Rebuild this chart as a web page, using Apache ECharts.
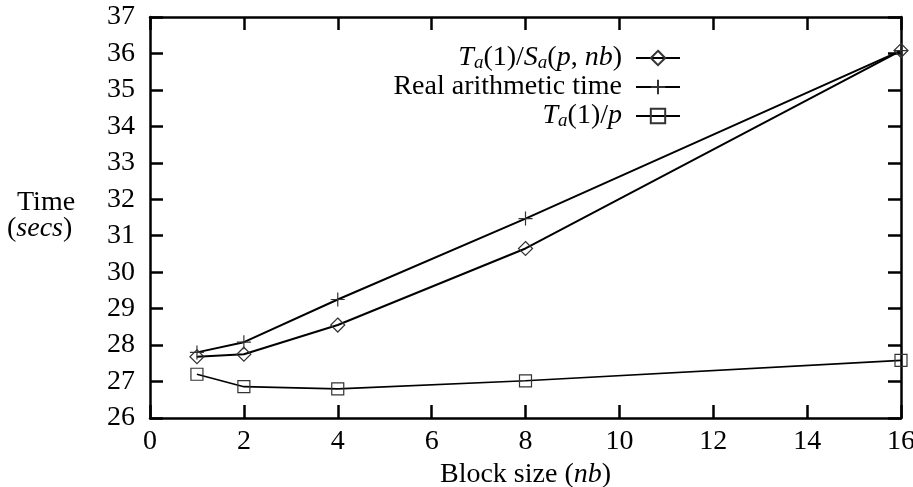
<!DOCTYPE html>
<html>
<head>
<meta charset="utf-8">
<script src="https://cdn.jsdelivr.net/npm/echarts@6/dist/echarts.min.js"></script>
<style>
html,body{margin:0;padding:0;background:#fff;}
#chart{width:913px;height:487px;}
</style>
</head>
<body>
<div id="chart"></div>
<script>
// Data
const blockSizes = [1, 2, 4, 8, 16];
const seriesNames = ['Ta1Sa', 'Real arithmetic time', 'Ta1p'];
const taOverSa = [27.68, 27.75, 28.55, 30.65, 36.08];
const realArith = [27.8, 28.08, 29.25, 31.47, 36.08];
const taOverP = [27.2, 26.86, 26.8, 27.02, 27.58];
const xTicks = [0, 2, 4, 6, 8, 10, 12, 14, 16];
const yTicks = [26, 27, 28, 29, 30, 31, 32, 33, 34, 35, 36, 37];

const FONT = 'Liberation Serif';
const FS = 28;

const chart = echarts.init(document.getElementById('chart'), null, {renderer: 'canvas'});

function pairs(ys) { return blockSizes.map((x, i) => [x, ys[i]]); }

const richStyles = {
  r: {fontFamily: FONT, fontSize: FS, color: '#000', lineHeight: 28},
  i: {fontFamily: FONT, fontSize: FS, fontStyle: 'italic', color: '#000', lineHeight: 28},
  s: {fontFamily: FONT, fontSize: 19, fontStyle: 'italic', color: '#000', lineHeight: 14, verticalAlign: 'bottom'}
};

const legendLabels = {
  'Ta1Sa': '{i|T}{s|a}{r|(1)/}{i|S}{s|a}{r|(}{i|p}{r|, }{i|nb}{r|)}',
  'Real arithmetic time': '{r|Real arithmetic time}',
  'Ta1p': '{i|T}{s|a}{r|(1)/}{i|p}'
};

const plusPath = 'path://M0,5 L10,5 M5,0 L5,10';

const axisCommon = {
  axisLine: {show: true, onZero: false, lineStyle: {color: '#000', width: 2.5}},
  axisTick: {show: true, inside: true, length: 13, lineStyle: {color: '#000', width: 2.5}},
  splitLine: {show: false},
  axisLabel: {fontFamily: FONT, fontSize: FS, color: '#000'}
};

function mkSeries(name, ys, symbol, size, lw) {
  return {
    name: name,
    type: 'line',
    data: pairs(ys),
    symbol: symbol,
    symbolSize: size,
    showAllSymbol: true,
    clip: false,
    lineStyle: {color: '#000', width: lw},
    itemStyle: {color: 'rgba(255,255,255,0)', borderColor: '#333', borderWidth: 1.2},
    emphasis: {disabled: true},
    animation: false
  };
}

const option = {
  animation: false,
  backgroundColor: '#fff',
  grid: {left: 150, right: 12, top: 17, bottom: 69, containLabel: false, outerBoundsMode: 'none'},
  xAxis: [
    Object.assign({}, axisCommon, {
      type: 'value', position: 'bottom', min: xTicks[0], max: xTicks[xTicks.length - 1], interval: 2,
      axisLabel: Object.assign({}, axisCommon.axisLabel, {margin: 10}),
      name: '{r|Block size (}{i|nb}{r|)}',
      nameLocation: 'middle', nameGap: 38,
      nameTextStyle: {rich: richStyles}
    }),
    Object.assign({}, axisCommon, {
      type: 'value', position: 'top', min: xTicks[0], max: xTicks[xTicks.length - 1], interval: 2,
      axisLabel: {show: false}
    })
  ],
  yAxis: [
    Object.assign({}, axisCommon, {
      type: 'value', position: 'left', min: yTicks[0], max: yTicks[yTicks.length - 1], interval: 1,
      axisLabel: Object.assign({}, axisCommon.axisLabel, {margin: 15})
    }),
    Object.assign({}, axisCommon, {
      type: 'value', position: 'right', min: yTicks[0], max: yTicks[yTicks.length - 1], interval: 1,
      axisLabel: {show: false}
    })
  ],
  legend: {
    orient: 'vertical',
    align: 'right',
    right: 232,
    top: 44,
    padding: 0,
    itemGap: 1,
    itemWidth: 44,
    itemHeight: 18,
    selectedMode: false,
    data: seriesNames,
    formatter: function (n) { return legendLabels[n]; },
    textStyle: {fontFamily: FONT, fontSize: FS, color: '#000', padding: [0, 9, 0, 0], rich: richStyles}
  },
  graphic: [
    {type: 'text', left: 17, top: 189, style: {text: 'Time', fontFamily: FONT, fontSize: FS, fill: '#000'}},
    {type: 'text', left: 7, top: 215, style: {
      text: '{r|(}{i|secs}{r|)}', rich: richStyles, fontFamily: FONT, fontSize: FS, fill: '#000'}}
  ],
  series: [
    mkSeries(seriesNames[0], taOverSa, 'diamond', 14, 2),
    mkSeries(seriesNames[1], realArith, plusPath, 14, 2),
    mkSeries(seriesNames[2], taOverP, 'rect', 12, 1.6)
  ]
};

chart.setOption(option);
</script>
</body>
</html>
